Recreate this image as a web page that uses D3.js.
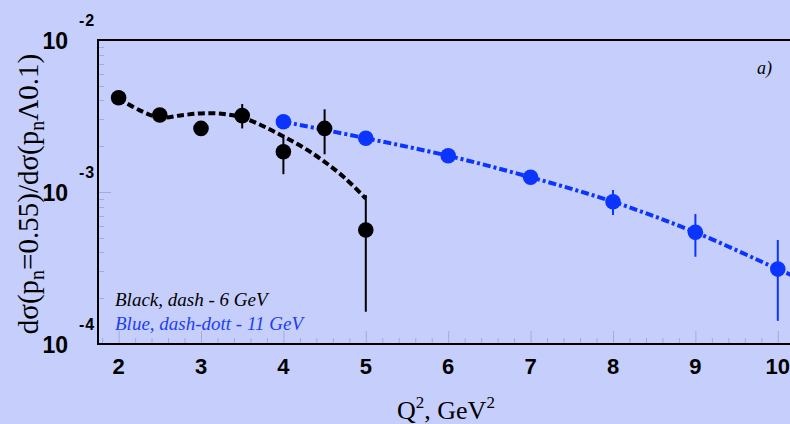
<!DOCTYPE html>
<html>
<head>
<meta charset="utf-8">
<script src="https://cdn.jsdelivr.net/npm/d3@7"></script>
<style>
  html, body { margin: 0; padding: 0; background: #c6cefc; overflow: hidden; }
  svg { display: block; }
</style>
</head>
<body>
<div id="chart"></div>
<script>
// --- data ---
const q2Black     = [2, 2.5, 3, 3.5, 4, 4.5, 5];
const ratioBlack  = [4.17e-3, 3.21e-3, 2.62e-3, 3.18e-3, 1.84e-3, 2.62e-3, 5.62e-4];
const errLoBlack  = [null, null, null, 2.62e-3, 1.31e-3, 1.77e-3, 1.63e-4];
const errHiBlack  = [null, null, null, 3.79e-3, 2.34e-3, 3.50e-3, 9.55e-4];

const q2Blue      = [4, 5, 6, 7, 8, 9, 10];
const ratioBlue   = [2.90e-3, 2.26e-3, 1.73e-3, 1.25e-3, 8.63e-4, 5.43e-4, 3.11e-4];
const errLoBlue   = [null, null, null, null, 7.06e-4, 3.75e-4, 1.42e-4];
const errHiBlue   = [null, null, null, null, 1.03e-3, 7.16e-4, 4.83e-4];

// fitted curves (6 GeV dash, 11 GeV dash-dot)
const q2CurveBlack    = [2, 2.25, 2.5, 2.75, 3, 3.25, 3.5, 3.75, 4, 4.25, 4.5, 4.75, 5];
const ratioCurveBlack = [4.13e-3, 3.46e-3, 3.09e-3, 3.19e-3, 3.29e-3, 3.27e-3, 3.09e-3,
                         2.72e-3, 2.32e-3, 1.95e-3, 1.58e-3, 1.23e-3, 9.06e-4];
const q2CurveBlue     = [4, 5, 6, 7, 8, 9, 10, 10.35];
const ratioCurveBlue  = [2.90e-3, 2.26e-3, 1.73e-3, 1.25e-3, 8.63e-4, 5.43e-4, 3.11e-4, 2.56e-4];

const xTicks = [2, 3, 4, 5, 6, 7, 8, 9, 10];
const yDecades = [-4, -3, -2];
const legendLines = ['Black, dash - 6 GeV', 'Blue, dash-dott - 11 GeV'];

const width  = 790;
const height = 424;
const frame = {l: 98, t: 40, b: 344};
const blue = '#0b35ff';
const tickCol = '#a3abdc';

const svg = d3.select('#chart')
  .append('svg')
  .attr('width', width)
  .attr('height', height);

svg.append('rect')
  .attr('width', width).attr('height', height)
  .attr('fill', '#c6cefc');

const x = d3.scaleLinear()
  .domain([1.75, 10.35])
  .range([frame.l, frame.l + 8.6 * 82.4]);

const y = d3.scaleLog()
  .domain([1e-4, 1e-2])
  .range([frame.b, frame.t]);

// ticks: x every 0.2, y log minors
const g = svg.append('g');
const xMinor = d3.range(1.8, 10.41, 0.2).map(v => +v.toFixed(1));
g.selectAll('.xt').data(xMinor).join('line')
  .attr('class', 'xt')
  .attr('stroke', tickCol).attr('stroke-width', 1)
  .attr('x1', d => x(d) + 0.5).attr('x2', d => x(d) + 0.5)
  .attr('y1', frame.b)
  .attr('y2', d => frame.b - (Number.isInteger(d) ? 13 : 6));

const yMinor = [];
[-4, -3].forEach(e => d3.range(1, 10).forEach(m => yMinor.push(m * Math.pow(10, e))));
g.selectAll('.yt').data(yMinor).join('line')
  .attr('class', 'yt')
  .attr('stroke', tickCol).attr('stroke-width', 1)
  .attr('x1', frame.l)
  .attr('x2', (d, i) => frame.l + (i % 9 == 0 ? 13 : 6))
  .attr('y1', d => Math.round(y(d)) + 0.5).attr('y2', d => Math.round(y(d)) + 0.5);

// frame
g.append('path')
  .attr('fill', 'none')
  .attr('stroke', '#000').attr('stroke-width', 2)
  .attr('d', `M${width + 5},${frame.t} H${frame.l} V${frame.b} H${width + 5}`);

// tick labels
g.selectAll('.xl').data(xTicks).join('text')
  .attr('class', 'xl')
  .attr('x', d => x(d)).attr('y', 374)
  .attr('text-anchor', 'middle')
  .attr('font-family', 'Liberation Sans, Arial, sans-serif')
  .attr('font-weight', 'bold').attr('font-size', 22)
  .text(d => d);

yDecades.forEach(e => {
  let yy = y(Math.pow(10, e));
  g.append('text')
    .attr('x', 68).attr('y', yy + 9)
    .attr('text-anchor', 'end')
    .attr('font-family', 'Liberation Sans, Arial, sans-serif')
    .attr('font-weight', 'bold').attr('font-size', 23)
    .text('10');
  g.append('text')
    .attr('x', 79).attr('y', yy - 14)
    .attr('font-family', 'Liberation Sans, Arial, sans-serif')
    .attr('font-weight', 'bold').attr('font-size', 16)
    .attr('letter-spacing', 1)
    .text(String(e));
});

// axis titles
const yt = svg.append('text')
  .attr('transform', 'translate(38, 194) rotate(-90)')
  .attr('text-anchor', 'middle')
  .attr('font-family', 'Liberation Serif, Times New Roman, serif')
  .attr('font-size', 29);
yt.append('tspan').text('dσ(p');
yt.append('tspan').attr('font-size', 20).attr('dy', 6).text('n');
yt.append('tspan').attr('dy', -6).text('=0.55)/dσ(p');
yt.append('tspan').attr('font-size', 20).attr('dy', 6).text('n');
yt.append('tspan').attr('dy', -6).text('Λ0.1)');

const xt = svg.append('text')
  .attr('x', 397).attr('y', 419)
  .attr('font-family', 'Liberation Serif, Times New Roman, serif')
  .attr('font-size', 26);
xt.append('tspan').text('Q');
xt.append('tspan').attr('font-size', 17).attr('dy', -11).text('2');
xt.append('tspan').attr('dy', 11).text(', GeV');
xt.append('tspan').attr('font-size', 17).attr('dy', -11).text('2');

svg.append('text')
  .attr('x', 757).attr('y', 74)
  .attr('font-family', 'Liberation Serif, Times New Roman, serif')
  .attr('font-style', 'italic').attr('font-size', 18)
  .text('a)');

// legend
legendLines.forEach((t, i) => {
  svg.append('text')
    .attr('x', 115).attr('y', 306 + i * 24)
    .attr('font-family', 'Liberation Serif, Times New Roman, serif')
    .attr('font-style', 'italic').attr('font-size', 19)
    .attr('fill', i == 0 ? '#000' : '#1d3ef0')
    .text(t);
});

// curves
const line = d3.line()
  .x(d => x(d[0])).y(d => y(d[1]))
  .curve(d3.curveCatmullRom.alpha(0.5));

const plot = svg.append('g');
plot.append('path')
  .datum(d3.zip(q2CurveBlack, ratioCurveBlack))
  .attr('fill', 'none').attr('stroke', '#000')
  .attr('stroke-width', 4).attr('stroke-dasharray', '7,3.5')
  .attr('d', line);

plot.append('path')
  .datum(d3.zip(q2CurveBlue, ratioCurveBlue))
  .attr('fill', 'none').attr('stroke', blue)
  .attr('stroke-width', 4).attr('stroke-dasharray', '8,3,3,3')
  .attr('d', line);

// points with error bars
function drawSeries(xs, vs, lo, hi, color) {
  const s = plot.append('g');
  xs.forEach((q, i) => {
    if (lo[i] != null) {
      s.append('line')
        .attr('stroke', color).attr('stroke-width', 2)
        .attr('x1', x(q)).attr('x2', x(q))
        .attr('y1', y(hi[i])).attr('y2', y(lo[i]));
    }
    s.append('circle')
      .attr('cx', x(q)).attr('cy', y(vs[i]))
      .attr('r', 7.8)
      .attr('fill', color);
  });
}
drawSeries(q2Blue, ratioBlue, errLoBlue, errHiBlue, blue);
drawSeries(q2Black, ratioBlack, errLoBlack, errHiBlack, '#000');
</script>
</body>
</html>
